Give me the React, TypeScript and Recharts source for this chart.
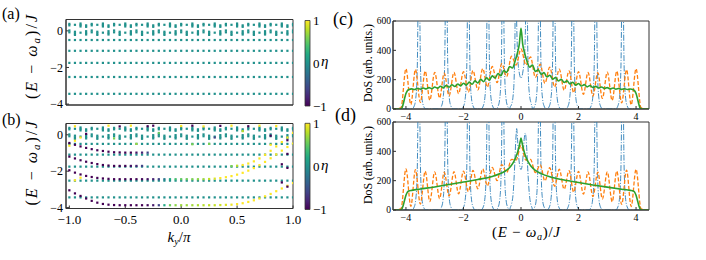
import React from 'react';
import {
  ScatterChart, Scatter, XAxis, YAxis, ReferenceArea,
  LineChart, Line, BarChart, Bar,
} from 'recharts';

const SERIF = '"Liberation Serif", "Times New Roman", serif';
const FRAME = '#333';

// ---------------- band-structure data (panels a, b) ----------------
const kValues = [-1, -0.95, -0.9, -0.85, -0.8, -0.75, -0.7, -0.65, -0.6, -0.55, -0.5, -0.45, -0.4, -0.35, -0.3, -0.25, -0.2, -0.15, -0.1, -0.05, 0, 0.05, 0.1, 0.15, 0.2, 0.25, 0.3, 0.35, 0.4, 0.45, 0.5, 0.55, 0.6, 0.65, 0.7, 0.75, 0.8, 0.85, 0.9, 0.95, 1];
const kTicks = [-1, -0.5, 0, 0.5, 1];
const eTicks = [-4, -2, 0];
const flatBands = [-0.5, -1.09, -1.75, -2.52, -3.44];
const topClusterMotif = [
  [0.38, 0.3, 0.02, -0.08],
  [0.33, -0.05, -0.14, -0.22],
  [0.4, 0.32, 0.24, -0.1],
  [0.3, 0.22, -0.02, -0.12, -0.2],
];
// [k, E, eta]
const bandD1 = [[-1, -3.05, -1], [-0.95, -3.22, -1], [-0.9, -3.36, -1], [-0.85, -3.5, -1], [-0.8, -3.63, -1], [-0.75, -3.73, -1], [-0.7, -3.8, -1], [-0.65, -3.84, -1], [-0.6, -3.86, -1], [-0.55, -3.87, -1], [-0.5, -3.87, -1], [-0.45, -3.87, -1], [-0.4, -3.87, -1], [-0.35, -3.87, -1], [-0.3, -3.87, -0.95], [-0.25, -3.87, -0.85], [-0.2, -3.87, -0.6], [-0.15, -3.87, 0.2], [-0.1, -3.87, 0.55], [-0.05, -3.87, 0.65], [0, -3.87, 0.7], [0.05, -3.87, 0.7], [0.1, -3.87, 0.72], [0.15, -3.87, 0.75], [0.2, -3.87, 0.78], [0.25, -3.87, 0.8], [0.3, -3.87, 0.82], [0.35, -3.86, 0.85], [0.4, -3.85, 0.9], [0.45, -3.84, 0.95], [0.5, -3.81, 1], [0.55, -3.76, 1], [0.6, -3.69, 1], [0.65, -3.6, 1], [0.7, -3.5, 1], [0.75, -3.38, 1], [0.8, -3.25, 1], [0.85, -3.1, 1], [0.9, -2.95, 1], [0.95, -2.8, 1], [1, -2.65, 1]];
const bandD2 = [[-1, -1.95, -1], [-0.95, -2.08, -1], [-0.9, -2.18, -1], [-0.85, -2.26, -1], [-0.8, -2.32, -1], [-0.75, -2.37, -1], [-0.7, -2.4, -1], [-0.65, -2.42, -1], [-0.6, -2.44, -1], [-0.55, -2.44, -1], [-0.5, -2.44, -1], [-0.45, -2.44, -1], [-0.4, -2.44, -1], [-0.35, -2.44, -0.95], [-0.3, -2.44, -0.9], [-0.25, -2.44, -0.8], [-0.2, -2.44, -0.6], [-0.15, -2.44, -0.2], [-0.1, -2.44, 0.2], [-0.05, -2.44, 0.4], [0, -2.44, 0.5], [0.05, -2.44, 0.55], [0.1, -2.44, 0.6], [0.15, -2.44, 0.65], [0.2, -2.44, 0.7], [0.25, -2.43, 0.8], [0.3, -2.41, 0.9], [0.35, -2.38, 1], [0.4, -2.33, 1], [0.45, -2.27, 1], [0.5, -2.19, 1], [0.55, -2.09, 1], [0.6, -1.97, 1], [0.65, -1.83, 1], [0.7, -1.67, 1], [0.75, -1.49, 1], [0.8, -1.29, 1], [0.85, -1.08, 1], [0.9, -0.87, 1], [0.95, -0.67, 1], [1, -0.48, 1]];
const bandD3 = [[-1, -1.2, -1], [-0.95, -1.3, -1], [-0.9, -1.4, -1], [-0.85, -1.48, -1], [-0.8, -1.55, -1], [-0.75, -1.61, -1], [-0.7, -1.66, -1], [-0.65, -1.69, -1], [-0.6, -1.71, -1], [-0.55, -1.71, -1], [-0.5, -1.71, -1], [-0.45, -1.71, -0.9], [-0.4, -1.71, -0.8], [-0.35, -1.71, -0.6], [0.45, -1.72, 0.6], [0.5, -1.7, 0.8], [0.55, -1.66, 1], [0.6, -1.58, 1], [0.65, -1.46, 1], [0.7, -1.3, 1], [0.75, -1.1, 1], [0.8, -0.88, 1], [0.85, -0.64, 1], [0.9, -0.4, 1], [0.95, -0.15, 1], [1, 0.1, 1]];
const bandD4 = [[-1, -0.45, -1], [-0.95, -0.55, -1], [-0.9, -0.64, -1], [-0.85, -0.72, -1], [-0.8, -0.79, -1], [-0.75, -0.85, -1], [-0.7, -0.89, -1], [-0.65, -0.93, -1], [-0.6, -0.96, -1], [-0.55, -0.97, -1], [-0.5, -0.98, -1], [-0.45, -0.98, -1], [-0.4, -0.98, -0.9], [-0.35, -0.98, -0.8], [-0.3, -0.98, -0.6]];
const edgePoints = [[0.95, -2.85, -1], [0.9, -2.62, -1], [0.95, -1.82, -1], [0.9, -1.62, -1], [0.95, -1.05, -1], [0.95, -0.3, -1], [-0.95, -2.5, 1], [-0.9, -2.36, 1], [-0.95, -0.33, 1], [-0.9, -0.15, 1]];
const topColored = [[-0.95, 0.47, 1], [-0.65, 0.5, 1], [-0.55, 0.46, -1], [-0.45, 0.5, 1], [-0.3, 0.47, -1], [-0.25, 0.5, -1], [0, 0.48, 1], [0.1, 0.5, -1], [0.2, 0.46, 1], [0.35, 0.49, -1], [0.45, 0.5, 1], [0.6, 0.47, -1], [0.7, 0.5, 1], [0.85, 0.48, 1], [-0.85, 0.05, -1], [-0.6, -0.2, 0.6], [-0.2, 0.1, 0.5], [0.3, -0.15, -0.6], [0.55, 0.2, 0.8], [0.8, -0.05, -1], [-0.4, -0.5, 0.7], [0.1, -0.52, 0.6], [0.25, -0.5, 0.6], [-1, -0.6, 1], [0.8, -0.55, 1]];

// ---------------- DoS data (panels c, d) ----------------
const dosTicksX = [-4, -2, 0, 2, 4];
const dosTicksY = [0, 200, 400, 600];
const blueOuterCenters = [-3.55, -2.6, -1.83, -1.15, -0.63, 0.64, 1.15, 1.8, 2.6, 3.53];
const blueProfile = [[-0.24, 0], [-0.16, 22], [-0.11, 70], [-0.07, 190], [-0.045, 420], [-0.025, 900], [0, 2200], [0.025, 900], [0.045, 420], [0.07, 190], [0.11, 70], [0.16, 22], [0.24, 0]];
const blueCenterC = [[-0.38, 10], [-0.33, 30], [-0.28, 80], [-0.24, 200], [-0.21, 500], [-0.19, 1200], [-0.16, 700], [-0.12, 380], [-0.07, 260], [0, 210], [0.07, 260], [0.13, 380], [0.17, 700], [0.21, 1200], [0.23, 500], [0.26, 200], [0.3, 90], [0.35, 40], [0.39, 10]];
const blueCenterD = [[-0.38, 10], [-0.33, 40], [-0.27, 120], [-0.22, 300], [-0.18, 480], [-0.15, 555], [-0.12, 480], [-0.07, 340], [0, 275], [0.06, 340], [0.11, 480], [0.15, 525], [0.19, 450], [0.24, 260], [0.29, 110], [0.34, 40], [0.39, 10]];
const orangeC = [[-4.45, 0], [-4.3, 2], [-4.17, 10], [-4.0, 275], [-3.83, 30], [-3.67, 270], [-3.5, 45], [-3.33, 258], [-3.17, 60], [-3.0, 250], [-2.83, 75], [-2.67, 245], [-2.5, 90], [-2.33, 250], [-2.17, 105], [-2.0, 255], [-1.83, 115], [-1.67, 262], [-1.5, 130], [-1.33, 275], [-1.17, 150], [-1.0, 290], [-0.83, 180], [-0.67, 310], [-0.5, 220], [-0.33, 360], [-0.17, 300], [0.0, 410], [0.17, 300], [0.33, 355], [0.5, 215], [0.67, 305], [0.83, 175], [1.0, 285], [1.17, 150], [1.33, 272], [1.5, 128], [1.67, 260], [1.83, 112], [2.0, 255], [2.17, 100], [2.33, 250], [2.5, 88], [2.67, 248], [2.83, 72], [3.0, 252], [3.17, 58], [3.33, 258], [3.5, 42], [3.67, 268], [3.83, 28], [4.0, 275], [4.17, 10], [4.3, 2], [4.45, 0]];
const orangeD = [[-4.45, 0], [-4.3, 2], [-4.17, 10], [-4.0, 280], [-3.83, 25], [-3.67, 275], [-3.5, 40], [-3.33, 265], [-3.17, 58], [-3.0, 260], [-2.83, 78], [-2.67, 258], [-2.5, 95], [-2.33, 262], [-2.17, 110], [-2.0, 265], [-1.83, 125], [-1.67, 270], [-1.5, 145], [-1.33, 280], [-1.17, 165], [-1.0, 290], [-0.83, 200], [-0.67, 310], [-0.5, 255], [-0.33, 345], [-0.17, 340], [0.0, 440], [0.17, 340], [0.33, 345], [0.5, 255], [0.67, 308], [0.83, 198], [1.0, 288], [1.17, 162], [1.33, 278], [1.5, 142], [1.67, 268], [1.83, 122], [2.0, 264], [2.17, 108], [2.33, 260], [2.5, 92], [2.67, 258], [2.83, 75], [3.0, 260], [3.17, 56], [3.33, 265], [3.5, 38], [3.67, 272], [3.83, 24], [4.0, 278], [4.17, 10], [4.3, 2], [4.45, 0]];
const greenC = [[-4.45, 0], [-4.2, 0], [-4.15, 4], [-4.1, 30], [-4.05, 70], [-4.0, 105], [-3.95, 125], [-3.9, 133], [-3.8, 137], [-3.7, 133], [-3.6, 140], [-3.5, 135], [-3.4, 143], [-3.3, 137], [-3.2, 146], [-3.1, 139], [-3.0, 150], [-2.9, 142], [-2.8, 155], [-2.7, 145], [-2.6, 160], [-2.5, 149], [-2.4, 165], [-2.3, 153], [-2.2, 170], [-2.1, 158], [-2.0, 176], [-1.9, 163], [-1.8, 183], [-1.7, 169], [-1.6, 192], [-1.5, 177], [-1.4, 202], [-1.3, 186], [-1.2, 213], [-1.1, 197], [-1.0, 226], [-0.9, 211], [-0.8, 242], [-0.7, 227], [-0.6, 262], [-0.5, 249], [-0.4, 290], [-0.3, 280], [-0.2, 330], [-0.12, 385], [-0.06, 440], [0, 550], [0.06, 440], [0.12, 385], [0.2, 330], [0.3, 285], [0.4, 300], [0.5, 256], [0.6, 268], [0.7, 236], [0.8, 248], [0.9, 218], [1.0, 230], [1.1, 204], [1.2, 215], [1.3, 191], [1.4, 202], [1.5, 181], [1.6, 192], [1.7, 171], [1.8, 182], [1.9, 163], [2.0, 174], [2.1, 157], [2.2, 166], [2.3, 151], [2.4, 160], [2.5, 147], [2.6, 154], [2.7, 143], [2.8, 150], [2.9, 140], [3.0, 146], [3.1, 137], [3.2, 143], [3.3, 135], [3.4, 140], [3.5, 134], [3.6, 138], [3.7, 133], [3.8, 136], [3.9, 132], [3.95, 125], [4.0, 105], [4.05, 70], [4.1, 30], [4.15, 4], [4.2, 0], [4.45, 0]];
const greenD = [[-4.45, 0], [-4.2, 0], [-4.15, 4], [-4.1, 28], [-4.05, 65], [-4.0, 100], [-3.95, 122], [-3.9, 130], [-3.8, 134], [-3.5, 143], [-3.0, 157], [-2.5, 174], [-2.0, 191], [-1.5, 208], [-1.0, 229], [-0.7, 250], [-0.5, 272], [-0.35, 300], [-0.25, 330], [-0.15, 375], [-0.08, 420], [-0.03, 465], [0, 490], [0.03, 465], [0.08, 420], [0.15, 372], [0.25, 328], [0.35, 298], [0.5, 270], [0.7, 248], [1.0, 226], [1.5, 204], [2.0, 187], [2.5, 171], [3.0, 156], [3.5, 142], [3.8, 134], [3.9, 130], [3.95, 122], [4.0, 100], [4.05, 65], [4.1, 28], [4.15, 4], [4.2, 0], [4.45, 0]];

// ---------------- helpers ----------------
const VIR = [[68, 1, 84], [72, 36, 117], [65, 68, 135], [53, 95, 141], [42, 120, 142], [33, 145, 140], [34, 168, 132], [68, 191, 112], [122, 209, 81], [189, 223, 38], [253, 231, 37]];
function viridis(eta: number) {
  const t = Math.max(0, Math.min(1, (eta + 1) / 2)) * 10;
  const i = Math.min(9, Math.floor(t));
  const f = t - i;
  const c = VIR[i].map((v, j) => Math.round(v + (VIR[i + 1][j] - v) * f));
  return `rgb(${c.join(',')})`;
}
const fmt = (v: number, d = 0) => (v < 0 ? '\u2212' : '') + Math.abs(v).toFixed(d);

const tealPoints: any[] = [];
kValues.forEach((k, i) => {
  flatBands.forEach((E) => tealPoints.push({ k, E, eta: 0 }));
  topClusterMotif[i % topClusterMotif.length].forEach((E) => tealPoints.push({ k, E, eta: 0 }));
});
const coloredPoints = [...bandD1, ...bandD2, ...bandD3, ...bandD4, ...edgePoints, ...topColored].map(([k, E, eta]) => ({ k, E, eta }));

function buildBlue(center: number[][]) {
  const pts: number[][] = [[-4.45, 0], [4.45, 0]];
  blueOuterCenters.forEach((c) => blueProfile.forEach(([dx, v]) => pts.push([Math.round((c + dx) * 1000) / 1000, v])));
  center.forEach((p) => pts.push(p));
  return pts.sort((a, b) => a[0] - b[0]).map(([x, y]) => ({ x, y }));
}
const toXY = (arr: number[][]) => arr.map(([x, y]) => ({ x, y }));
const blueC = buildBlue(blueCenterC);
const blueD = buildBlue(blueCenterD);

const dotShape = (p: any) => (
  <rect x={p.cx - 1.1} y={p.cy - 1.1} width={2.2} height={2.2} fill={viridis(p.payload.eta)} />
);

const EnergyText = ({ x, y, rotate, len, size }: any) => (
  <text x={x} y={y} transform={rotate ? `rotate(-90 ${x} ${y})` : undefined} textAnchor="middle"
    fontFamily={SERIF} fontSize={size} fill="#000" textLength={len} lengthAdjust="spacing">
    (<tspan fontStyle="italic">E</tspan> {'\u2212'} <tspan fontStyle="italic">{'\u03c9'}</tspan><tspan fontStyle="italic" fontSize={size * 0.68} dy={3}>a</tspan><tspan dy={-3}>)/</tspan><tspan fontStyle="italic">J</tspan>
  </text>
);

function BandPanel({ withColors }: { withColors: boolean }) {
  const h = withColors ? 157 : 106;
  const panelLabel = withColors ? '(b)' : '(a)';
  const labelY = withColors ? 22 : 19;
  const yLabY = withColors ? 60.5 : 57;
  return (
    <ScatterChart width={300} height={h} margin={{ top: withColors ? 20.5 : 19.5, right: 7, bottom: 0, left: 0 }}>
      <XAxis type="number" dataKey="k" domain={[-1.03, 1.0]} allowDataOverflow ticks={kTicks} interval={0}
        height={withColors ? 51.5 : 1} tickSize={-3} tickMargin={9.5}
        tick={withColors ? { fontFamily: SERIF, fontSize: 13, fill: '#000' } : false}
        tickFormatter={(v: number) => fmt(v, 1)} axisLine={{ stroke: FRAME }} tickLine={{ stroke: FRAME }}
        label={withColors ? {
          content: () => (
            <text x={179} y={138.5} textAnchor="middle" fontFamily={SERIF} fontSize={15} fill="#000">
              <tspan fontStyle="italic">k</tspan><tspan fontStyle="italic" fontSize={10} dy={3}>y</tspan><tspan dy={-3}>/</tspan><tspan fontStyle="italic">{'\u03c0'}</tspan>
            </text>
          ),
        } : undefined} />
      <YAxis type="number" dataKey="E" domain={[-4.05, 0.62]} allowDataOverflow ticks={eTicks} interval={0} width={66}
        tickSize={-3} tickMargin={6} tick={{ fontFamily: SERIF, fontSize: 12, fill: '#000' }}
        tickFormatter={(v: number) => fmt(v, 0)} axisLine={{ stroke: FRAME }} tickLine={{ stroke: FRAME }}
        label={{
          content: () => (
            <g>
              <EnergyText x={37} y={yLabY} rotate len={84} size={16} />
              <text x={2} y={labelY} fontFamily={SERIF} fontSize={16} fill="#000">{panelLabel}</text>
            </g>
          ),
        }} />
      <Scatter data={tealPoints} shape={dotShape} isAnimationActive={false} />
      {withColors && <Scatter data={coloredPoints} shape={dotShape} isAnimationActive={false} />}
      <ReferenceArea x1={-1.03} x2={1.0} y1={-4.05} y2={0.62} fill="none" stroke={FRAME} strokeWidth={1} ifOverflow="visible" />
    </ScatterChart>
  );
}

const colorbarData = [{ name: 'eta', range: [-1, 1] }];
const cbTicks = [-1, 0, 1];

function Colorbar({ lower }: { lower: boolean }) {
  return (
    <BarChart width={60} height={112} data={colorbarData} barCategoryGap={0}
      margin={{ top: lower ? 20.3 : 20.5, right: 0, bottom: lower ? 5.5 : 6, left: 9 }}>
      <XAxis dataKey="name" hide />
      <YAxis orientation="right" type="number" domain={[-1, 1]} ticks={cbTicks} interval={0} width={46}
        tickSize={0} tickMargin={3} tickLine={false} axisLine={false}
        tick={{ fontFamily: SERIF, fontSize: 13, fill: '#000' }} tickFormatter={(v: number) => fmt(v, 0)}
        label={{
          content: () => (
            <text x={25} y={lower ? 67 : 66} fontFamily={SERIF} fontSize={15} fontStyle="italic" fill="#000">{'\u03b7'}</text>
          ),
        }} />
      <Bar dataKey="range" fill="url(#viridisGrad)" stroke={FRAME} strokeWidth={0.8} isAnimationActive={false} />
    </BarChart>
  );
}

function DosPanel({ lower }: { lower: boolean }) {
  const h = lower ? 159 : 130;
  return (
    <LineChart width={335} height={h} margin={{ top: 21, right: 11, bottom: lower ? 10 : 3, left: 8 }}>
      <XAxis type="number" dataKey="x" domain={[-4.45, 4.45]} allowDataOverflow ticks={dosTicksX} interval={0}
        height={lower ? 40 : 18} tickSize={-3} tickMargin={6.5}
        tick={{ fontFamily: SERIF, fontSize: 10, fill: '#000' }} tickFormatter={(v: number) => fmt(v, 0)}
        axisLine={{ stroke: FRAME }} tickLine={{ stroke: FRAME }}
        label={lower ? { content: () => <EnergyText x={201} y={136} len={68} size={15} /> } : undefined} />
      <YAxis type="number" domain={[0, 600]} allowDataOverflow ticks={dosTicksY} interval={0} width={60}
        tickSize={-3} tickMargin={5} tick={{ fontFamily: SERIF, fontSize: 9.5, fill: '#000' }}
        axisLine={{ stroke: FRAME }} tickLine={{ stroke: FRAME }}
        label={{
          content: () => (
            <g>
              <text x={47} y={lower ? 64 : 63} transform={`rotate(-90 47 ${lower ? 64 : 63})`} textAnchor="middle"
                fontFamily={SERIF} fontSize={12} fill="#000" textLength={78} lengthAdjust="spacing">DoS (arb. units.)</text>
              <text x={lower ? 10 : 8} y={lower ? 20 : 24.5} fontFamily={SERIF} fontSize={18} fill="#000">{lower ? '(d)' : '(c)'}</text>
            </g>
          ),
        }} />
      <Line data={lower ? blueD : blueC} dataKey="y" type="monotone" stroke="#1f77b4" strokeWidth={1}
        strokeDasharray="6 1.6 1 1.6" dot={false} isAnimationActive={false} strokeOpacity={0.85} />
      <Line data={toXY(lower ? orangeD : orangeC)} dataKey="y" type="monotone" stroke="#ff7f0e" strokeWidth={1.3}
        strokeDasharray="4 2" dot={false} isAnimationActive={false} />
      <Line data={toXY(lower ? greenD : greenC)} dataKey="y" type="monotone" stroke="#2ca02c" strokeWidth={1.6}
        dot={false} isAnimationActive={false} />
      <ReferenceArea x1={-4.45} x2={4.45} y1={0} y2={600} fill="none" stroke={FRAME} strokeWidth={1} ifOverflow="visible" />
    </LineChart>
  );
}

export default function App() {
  return (
    <div style={{ position: 'absolute', left: 0, top: 0, width: 706, height: 260, background: '#fff', overflow: 'hidden' }}>
      <style>{'.recharts-surface{overflow:visible}'}</style>
      <svg width={0} height={0} style={{ position: 'absolute' }}>
        <defs>
          <linearGradient id="viridisGrad" x1="0" y1="0" x2="0" y2="1">
            {VIR.slice().reverse().map((c, i) => (
              <stop key={i} offset={`${i * 10}%`} stopColor={`rgb(${c.join(',')})`} />
            ))}
          </linearGradient>
        </defs>
      </svg>
      <div style={{ position: 'absolute', left: 0, top: 0 }}><BandPanel withColors={false} /></div>
      <div style={{ position: 'absolute', left: 0, top: 103 }}><BandPanel withColors /></div>
      <div style={{ position: 'absolute', left: 296, top: 0 }}><Colorbar lower={false} /></div>
      <div style={{ position: 'absolute', left: 296, top: 103 }}><Colorbar lower /></div>
      <div style={{ position: 'absolute', left: 325, top: 0 }}><DosPanel lower={false} /></div>
      <div style={{ position: 'absolute', left: 325, top: 101 }}><DosPanel lower /></div>
    </div>
  );
}
